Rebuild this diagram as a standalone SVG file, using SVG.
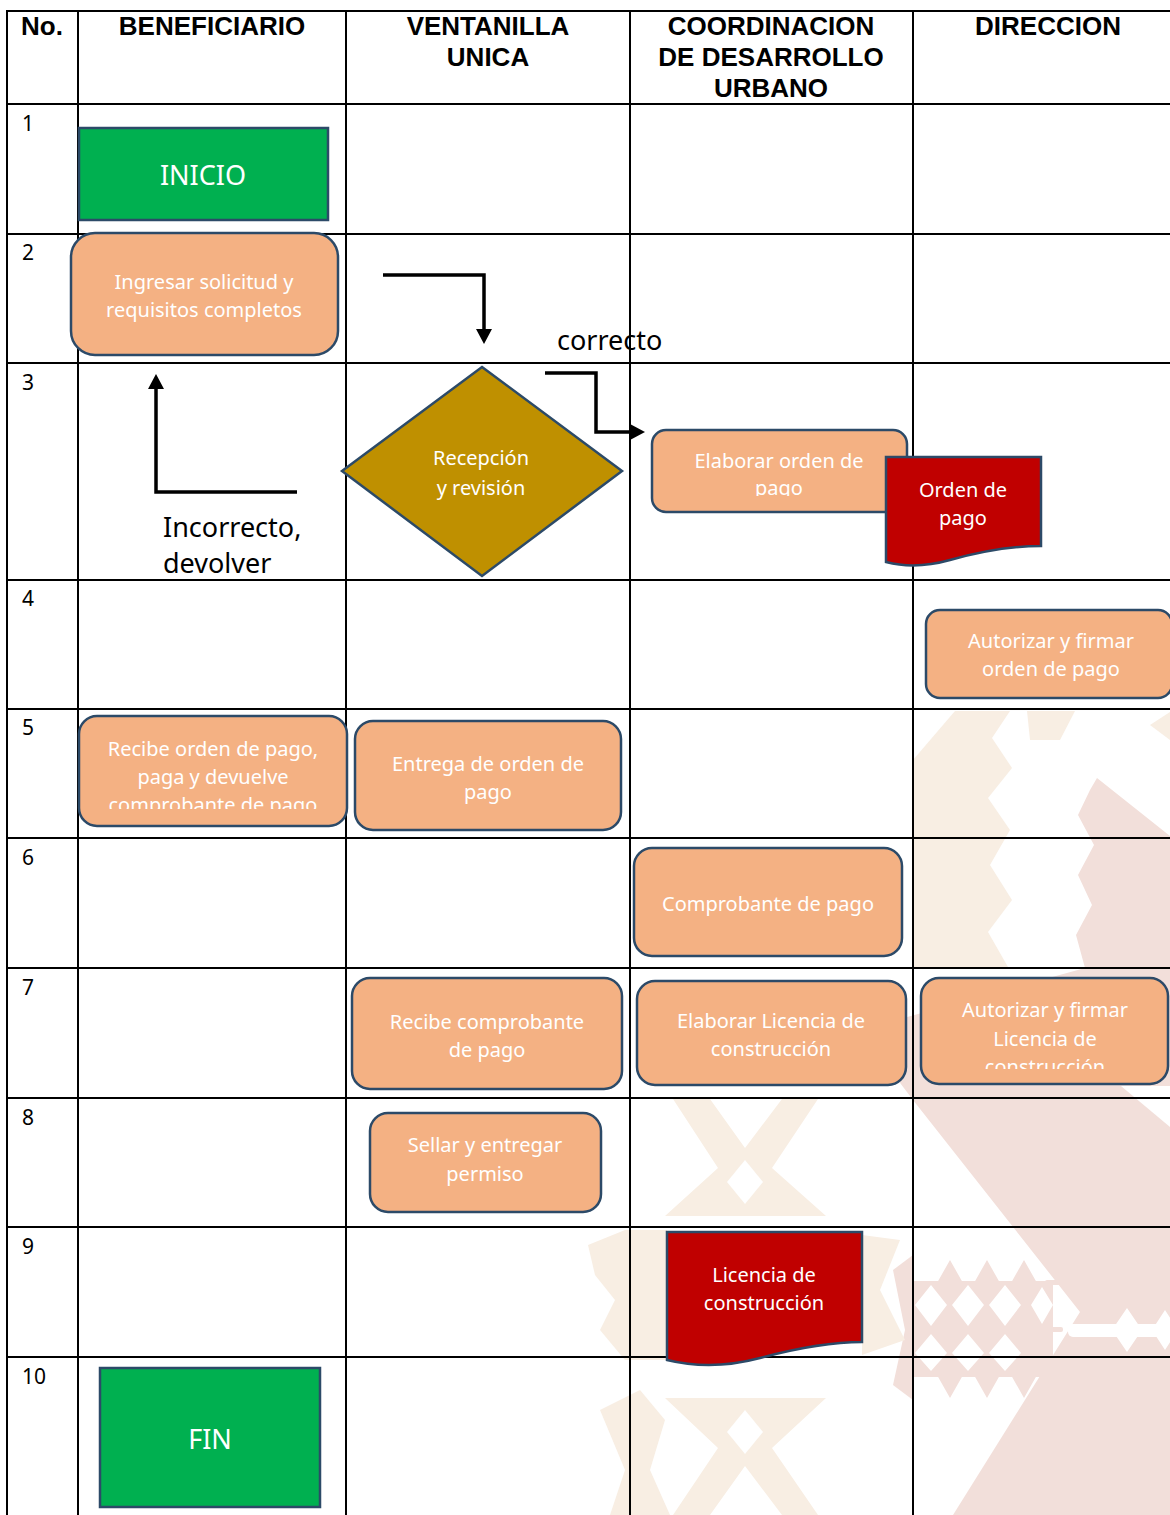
<svg xmlns="http://www.w3.org/2000/svg" width="1170" height="1515" viewBox="0 0 1170 1515">
<style>
.hdr{font-family:"Liberation Sans",Arial,sans-serif;font-weight:bold;font-size:26px;text-anchor:middle;fill:#000}
.num{font-family:"Noto Sans",sans-serif;font-size:21px;fill:#000}
.lbl{font-family:"Noto Sans",sans-serif;font-size:27px;fill:#000}
.nt{font-family:"Noto Sans",sans-serif;font-size:20px;fill:#fff;text-anchor:middle}
.big{font-size:27px}
.box{fill:#f4b183;stroke:#2c4a68;stroke-width:2.5}
.term{fill:#00b050;stroke:#2c4a68;stroke-width:2.5}
.doc{fill:#c00000;stroke:#2c4a68;stroke-width:2.5}
.dec{fill:#bf9000;stroke:#2c4a68;stroke-width:2.5}
.grid line{stroke:#000;stroke-width:2}
.conn path{fill:none;stroke:#000;stroke-width:3.5;marker-end:url(#ah)}
.pk{fill:#f2dfda}
.bg{fill:#f8eee3}
.wh{fill:#fff}
</style>
<defs>
<marker id="ah" viewBox="0 0 15 16" refX="5" refY="8" markerWidth="15" markerHeight="16" markerUnits="userSpaceOnUse" orient="auto">
<path d="M0,0 L15,8 L0,16 Z" fill="#000"/>
</marker>
<clipPath id="c1"><rect x="652" y="430" width="255" height="66"/></clipPath>
<clipPath id="c2"><rect x="79" y="716" width="268" height="93"/></clipPath>
<clipPath id="c3"><rect x="921" y="978" width="247" height="91"/></clipPath>
</defs>
<rect x="0" y="0" width="1170" height="1515" fill="#fff"/>

<g id="watermark">
<path class="pk" d="M1097,778 L1170,836 L1170,1515 L953,1515 L1080,1312 L913,1100 L860,1030 L1085,968 L1076,935 L1092,905 L1078,875 L1094,845 L1078,815 L1090,790 Z"/>
<path class="wh" d="M1121,1086 L1170,1086 L1170,1127 Z"/>
<rect class="pk" x="913" y="1281" width="140" height="96"/>
<rect class="pk" x="1045" y="1280" width="18" height="5" rx="2"/>
<rect class="pk" x="1045" y="1327" width="18" height="5" rx="2"/>
<rect class="pk" x="1045" y="1371" width="18" height="5" rx="2"/>
<path class="pk" d="M937,1283 L950,1260 L963,1283 Z M974,1283 L987,1260 L1000,1283 Z M1011,1283 L1024,1260 L1037,1283 Z"/>
<path class="pk" d="M937,1375 L950,1398 L963,1375 Z M974,1375 L987,1398 L1000,1375 Z M1011,1375 L1024,1398 L1037,1375 Z"/>
<path class="wh" d="M931,1285 L947,1305 L931,1326 L915,1305 Z M968,1285 L984,1305 L968,1326 L952,1305 Z M1005,1285 L1021,1305 L1005,1326 L989,1305 Z M1042,1287 L1053,1305 L1042,1324 L1031,1305 Z"/>
<path class="wh" d="M931,1334 L947,1353 L931,1371 L915,1353 Z M968,1334 L984,1353 L968,1371 L952,1353 Z M1005,1334 L1021,1353 L1005,1371 L989,1353 Z"/>
<rect class="wh" x="1068" y="1324" width="102" height="13" rx="5"/>
<path class="wh" d="M1127,1308 L1142,1330 L1127,1352 L1112,1330 Z M1165,1310 L1178,1330 L1165,1350 L1152,1330 Z"/>
<path class="pk" d="M893,1270 L913,1255 L913,1400 L893,1385 L905,1330 Z"/>
<path class="bg" d="M913,760 L955,711 L1010,711 L992,738 L1012,768 L988,798 L1010,830 L990,865 L1012,900 L988,932 L1008,967 L913,967 Z"/>
<path class="bg" d="M1027,711 L1075,711 L1060,740 L1030,740 Z M1150,725 L1170,712 L1170,740 Z"/>
<path class="bg" d="M673,1099 L710,1099 L745,1148 L782,1099 L818,1099 L772,1168 L826,1216 L665,1216 L718,1168 Z"/>
<path class="wh" d="M745,1160 L763,1182 L745,1204 L727,1182 Z"/>
<path class="bg" d="M665,1398 L826,1398 L772,1448 L818,1515 L782,1515 L745,1466 L710,1515 L673,1515 L718,1448 Z"/>
<path class="wh" d="M745,1410 L763,1432 L745,1454 L727,1432 Z"/>
<path class="bg" d="M588,1245 L625,1230 L667,1230 L667,1360 L625,1360 L600,1330 L615,1300 L595,1275 Z"/>
<path class="bg" d="M862,1235 L900,1240 L880,1290 L905,1340 L862,1355 Z"/>
<path class="bg" d="M600,1410 L640,1390 L665,1420 L650,1470 L670,1515 L610,1515 L625,1470 Z"/>
</g>

<g id="grid" class="grid">
<line x1="7" y1="11" x2="1170" y2="11"/>
<line x1="7" y1="10" x2="7" y2="1515"/>
<line x1="78" y1="10" x2="78" y2="1515"/>
<line x1="346" y1="10" x2="346" y2="1515"/>
<line x1="630" y1="10" x2="630" y2="1515"/>
<line x1="913" y1="10" x2="913" y2="1515"/>
<line x1="7" y1="104" x2="1170" y2="104"/>
<line x1="7" y1="234" x2="1170" y2="234"/>
<line x1="7" y1="363" x2="1170" y2="363"/>
<line x1="7" y1="580" x2="1170" y2="580"/>
<line x1="7" y1="709" x2="1170" y2="709"/>
<line x1="7" y1="838" x2="1170" y2="838"/>
<line x1="7" y1="968" x2="1170" y2="968"/>
<line x1="7" y1="1098" x2="1170" y2="1098"/>
<line x1="7" y1="1227" x2="1170" y2="1227"/>
<line x1="7" y1="1357" x2="1170" y2="1357"/>
</g>

<g id="headers">
<text class="hdr" x="42" y="35">No.</text>
<text class="hdr" x="212" y="35">BENEFICIARIO</text>
<text class="hdr" x="488" y="35">VENTANILLA</text>
<text class="hdr" x="488" y="66">UNICA</text>
<text class="hdr" x="771" y="35">COORDINACION</text>
<text class="hdr" x="771" y="66">DE DESARROLLO</text>
<text class="hdr" x="771" y="97">URBANO</text>
<text class="hdr" x="1048" y="35">DIRECCION</text>
</g>

<g id="rownums">
<text class="num" x="22" y="131">1</text>
<text class="num" x="22" y="260">2</text>
<text class="num" x="22" y="390">3</text>
<text class="num" x="22" y="606">4</text>
<text class="num" x="22" y="735">5</text>
<text class="num" x="22" y="865">6</text>
<text class="num" x="22" y="995">7</text>
<text class="num" x="22" y="1125">8</text>
<text class="num" x="22" y="1254">9</text>
<text class="num" x="22" y="1384">10</text>
</g>

<g id="inicio">
<rect class="term" x="79" y="128" width="249" height="92"/>
<text class="nt big" x="203" y="185">INICIO</text>
</g>
<g id="ingresar">
<rect class="box" x="71" y="233" width="267" height="122" rx="24"/>
<text class="nt" x="204" y="289">Ingresar solicitud y</text>
<text class="nt" x="204" y="317">requisitos completos</text>
</g>
<g id="recepcion">
<path class="dec" d="M482,367 L622,471 L482,576 L342,471 Z"/>
<text class="nt" x="481" y="465">Recepción</text>
<text class="nt" x="481" y="495">y revisión</text>
</g>
<g id="elaborar-orden">
<rect class="box" x="652" y="430" width="255" height="82" rx="14"/>
<g clip-path="url(#c1)">
<text class="nt" x="779" y="468">Elaborar orden de</text>
<text class="nt" x="779" y="495">pago</text>
</g>
</g>
<g id="orden-pago">
<path class="doc" d="M886,457 H1041 V546 C1005,546 975,553 950,560 C925,567 905,567 886,562 Z"/>
<text class="nt" x="963" y="497">Orden de</text>
<text class="nt" x="963" y="525">pago</text>
</g>
<g id="autorizar-orden">
<rect class="box" x="926" y="610" width="246" height="88" rx="14"/>
<text class="nt" x="1051" y="648">Autorizar y firmar</text>
<text class="nt" x="1051" y="676">orden de pago</text>
</g>
<g id="recibe-orden">
<rect class="box" x="79" y="716" width="268" height="110" rx="18"/>
<g clip-path="url(#c2)">
<text class="nt" x="213" y="756">Recibe orden de pago,</text>
<text class="nt" x="213" y="784">paga y devuelve</text>
<text class="nt" x="213" y="812">comprobante de pago</text>
</g>
</g>
<g id="entrega-orden">
<rect class="box" x="355" y="721" width="266" height="109" rx="18"/>
<text class="nt" x="488" y="771">Entrega de orden de</text>
<text class="nt" x="488" y="799">pago</text>
</g>
<g id="comprobante">
<rect class="box" x="634" y="848" width="268" height="108" rx="18"/>
<text class="nt" x="768" y="911">Comprobante de pago</text>
</g>
<g id="recibe-comprobante">
<rect class="box" x="352" y="978" width="270" height="111" rx="18"/>
<text class="nt" x="487" y="1029">Recibe comprobante</text>
<text class="nt" x="487" y="1057">de pago</text>
</g>
<g id="elaborar-licencia">
<rect class="box" x="637" y="981" width="269" height="104" rx="18"/>
<text class="nt" x="771" y="1028">Elaborar Licencia de</text>
<text class="nt" x="771" y="1056">construcción</text>
</g>
<g id="autorizar-licencia">
<rect class="box" x="921" y="978" width="247" height="106" rx="18"/>
<g clip-path="url(#c3)">
<text class="nt" x="1045" y="1017">Autorizar y firmar</text>
<text class="nt" x="1045" y="1046">Licencia de</text>
<text class="nt" x="1045" y="1074">construcción</text>
</g>
</g>
<g id="sellar">
<rect class="box" x="370" y="1113" width="231" height="99" rx="18"/>
<text class="nt" x="485" y="1152">Sellar y entregar</text>
<text class="nt" x="485" y="1181">permiso</text>
</g>
<g id="licencia">
<path class="doc" d="M667,1232 H862 V1342 C825,1342 790,1350 760,1358 C730,1366 700,1368 667,1360 Z"/>
<text class="nt" x="764" y="1282">Licencia de</text>
<text class="nt" x="764" y="1310">construcción</text>
</g>
<g id="fin">
<rect class="term" x="100" y="1368" width="220" height="139"/>
<text class="nt big" x="210" y="1449">FIN</text>
</g>

<g id="connectors" class="conn">
<path d="M383,275 H484 V334"/>
<path d="M545,373 H596 V432 H635"/>
<path d="M297,492 H156 V384"/>
</g>

<g id="labels">
<text class="lbl" x="557" y="350">correcto</text>
<text class="lbl" x="163" y="537">Incorrecto,</text>
<text class="lbl" x="163" y="573">devolver</text>
</g>
</svg>
